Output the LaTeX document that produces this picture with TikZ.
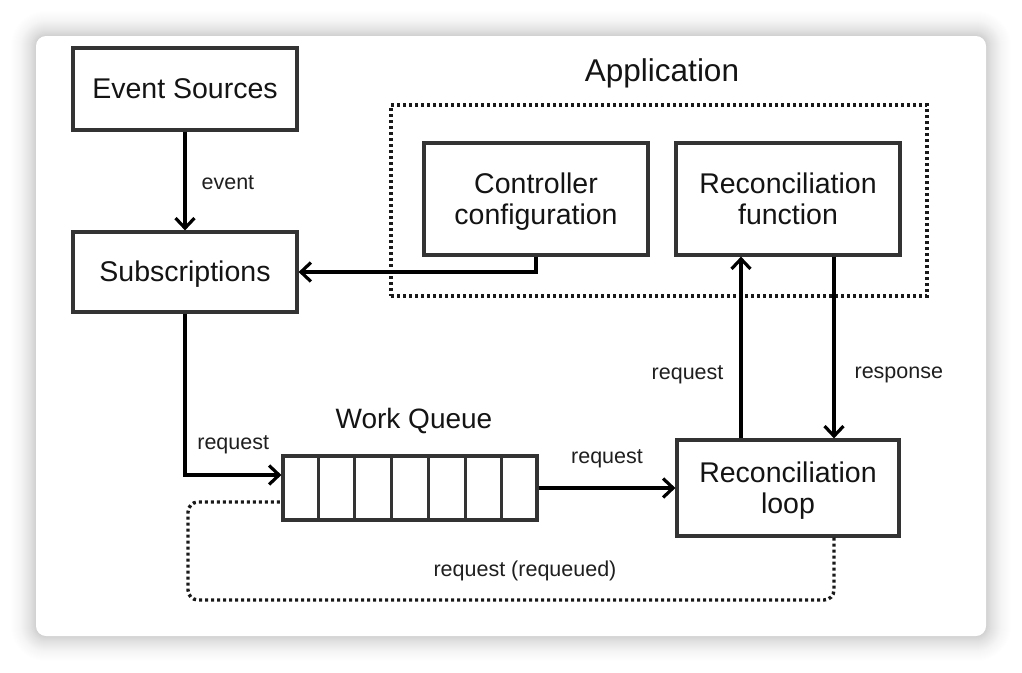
\documentclass[tikz,border=0pt]{standalone}
\usepackage{fontspec}
\setmainfont{Liberation Sans}
\usetikzlibrary{arrows.meta,calc}
\newcommand{\dntext}[1]{\raisebox{-3.5pt}[\height][\depth]{\begin{tabular}{@{}c@{}}#1\end{tabular}}}
\begin{document}
\begin{tikzpicture}[x=1pt,y=-1pt,
  box/.style={draw=black!80, line width=3.2pt, fill=white, minimum width=224pt,
    font=\fontsize{28.5}{31}\selectfont, inner sep=0pt, text=black!92},
  lbl/.style={font=\fontsize{21.5}{24}\selectfont, text=black!88, inner sep=0pt},
  title/.style={font=\fontsize{31.5}{34}\selectfont, text=black!92, inner sep=0pt},
  arr/.style={line width=3.2pt, black, -{Straight Barb[length=10pt,width=19pt]}},
  dotline/.style={line width=3.4pt, dash pattern=on 3pt off 3pt, black!90}
]
\useasboundingbox (0,0) rectangle (1022,672);
\fill[white] (0,0) rectangle (1022,672);
% card shadow
\foreach \i [evaluate=\i as \r using 10+\i, evaluate=\i as \o using 0.012-0.0004*\i] in {1,...,26}{
  \fill[black, opacity=\o, rounded corners=\r pt] ({36-\i},{36-\i}) rectangle ({986+\i},{636+\i});
}
\fill[white, rounded corners=10pt] (36,36) rectangle (986,636);

% application group
\node[title] (apptitle) at (662,73) {Application};
\node[dotline, draw, minimum width=536pt, minimum height=191pt, inner sep=0pt] (app) at (659,200.5) {};

% boxes
\node[box, minimum height=82pt] (evsrc) at (185,89) {\dntext{Event Sources}};
\node[box, minimum height=80pt] (subs) at (185,272) {\dntext{Subscriptions}};
\node[box, minimum height=112pt] (ctrl) at (536,199) {\dntext{Controller\\configuration}};
\node[box, minimum height=112pt] (recf) at (788,199) {\dntext{Reconciliation\\function}};
\node[box, minimum width=222pt, minimum height=96pt] (recl) at (788,488) {\dntext{Reconciliation\\loop}};

% work queue
\node[title, font=\fontsize{28}{30}\selectfont] (wqtitle) at (414,421) {Work Queue};
\node[draw=black!80, line width=3.2pt, fill=white, minimum width=254pt, minimum height=64pt, inner sep=0pt] (q) at (410,488) {};
\foreach \k in {1,...,6}{
  \draw[black!80, line width=3.2pt] ($(q.north west)!\k/7!(q.north east)$) -- ($(q.south west)!\k/7!(q.south east)$);
}

% connectors
\draw[arr] (evsrc) -- (subs) node[lbl, midway, anchor=west, xshift=15pt, yshift=-2pt] {event};
\draw[arr] (ctrl.south) |- (subs.east);
\draw[arr] (subs.south) |- ([yshift=13pt]q.west) node[lbl, pos=0.75, yshift=30pt] {request};
\draw[arr] (q.east) -- (recl.west) node[lbl, midway, yshift=29pt] {request};
\draw[arr] ([xshift=-47pt]recl.north) -- ([xshift=-47pt]recf.south) node[lbl, pos=0.35, anchor=east, xshift=-16pt] {request};
\draw[arr] ([xshift=46pt]recf.south) -- ([xshift=46pt]recl.north) node[lbl, pos=0.65, anchor=west, xshift=19pt] {response};

% requeue loop
\coordinate (bl) at (188,600);
\draw[dotline, rounded corners=10pt] ([xshift=46pt]recl.south) |- (bl) |- ([yshift=-14pt]q.west);
\node[lbl] (rq) at (525,571) {request (requeued)};
\end{tikzpicture}
\end{document}
